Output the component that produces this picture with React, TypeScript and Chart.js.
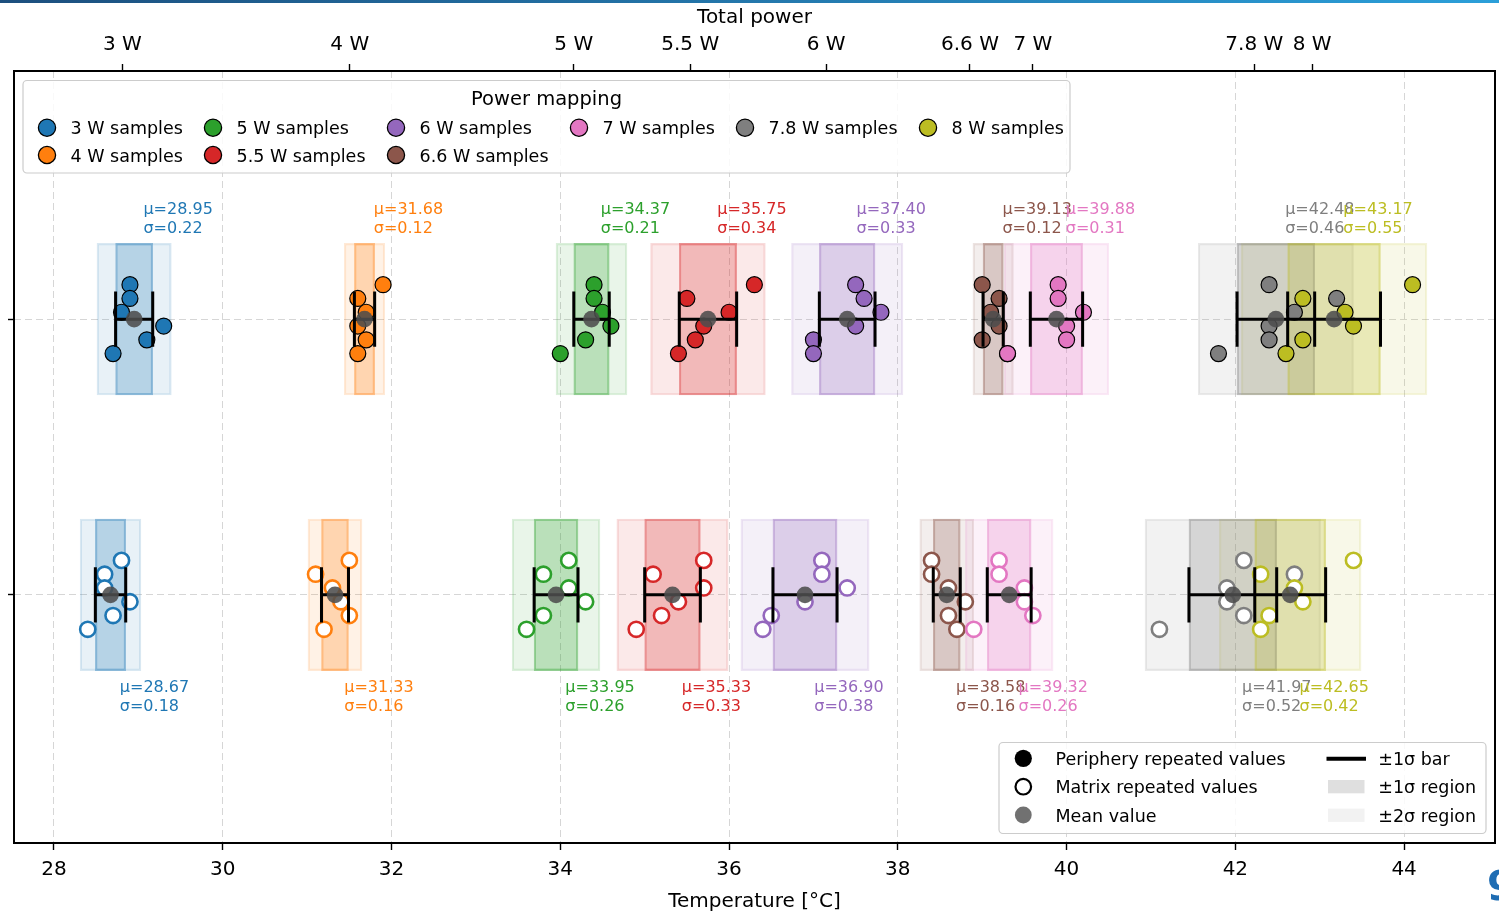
import React, { useEffect, useRef } from 'react';
import { Chart, registerables } from 'chart.js';

Chart.register(...registerables);

// ---------------- data ----------------
const powerLabels = ['3 W', '4 W', '5 W', '5.5 W', '6 W', '6.6 W', '7 W', '7.8 W', '8 W'];
const colors = ['#1f77b4', '#ff7f0e', '#2ca02c', '#d62728', '#9467bd', '#8c564b', '#e377c2', '#7f7f7f', '#bcbd22'];

const periphSamples = [
  [28.9, 28.9, 28.8, 29.3, 29.1, 28.7],
  [31.9, 31.6, 31.7, 31.6, 31.7, 31.6],
  [34.4, 34.4, 34.5, 34.6, 34.3, 34.0],
  [36.3, 35.5, 36.0, 35.7, 35.6, 35.4],
  [37.5, 37.6, 37.8, 37.5, 37.0, 37.0],
  [39.0, 39.2, 39.1, 39.2, 39.0, 39.3],
  [39.9, 39.9, 40.2, 40.0, 40.0, 39.3],
  [42.4, 43.2, 42.7, 42.4, 42.4, 41.8],
  [44.1, 42.8, 43.3, 43.4, 42.8, 42.6],
];
const matrixSamples = [
  [28.8, 28.6, 28.6, 28.9, 28.7, 28.4],
  [31.5, 31.1, 31.3, 31.4, 31.5, 31.2],
  [34.1, 33.8, 34.1, 34.3, 33.8, 33.6],
  [35.7, 35.1, 35.7, 35.4, 35.2, 34.9],
  [37.1, 37.1, 37.4, 36.9, 36.5, 36.4],
  [38.4, 38.4, 38.6, 38.8, 38.6, 38.7],
  [39.2, 39.2, 39.5, 39.5, 39.6, 38.9],
  [42.1, 42.7, 41.9, 41.9, 42.1, 41.1],
  [43.4, 42.3, 42.7, 42.8, 42.4, 42.3],
];
const periphMean = [28.95, 31.68, 34.37, 35.75, 37.40, 39.13, 39.88, 42.48, 43.17];
const periphSigma = [0.22, 0.12, 0.21, 0.34, 0.33, 0.12, 0.31, 0.46, 0.55];
const matrixMean = [28.67, 31.33, 33.95, 35.33, 36.90, 38.58, 39.32, 41.97, 42.65];
const matrixSigma = [0.18, 0.16, 0.26, 0.33, 0.38, 0.16, 0.26, 0.52, 0.42];
const sampleJitter = [0.125, 0.075, 0.025, -0.025, -0.075, -0.125];
const tempTicks = [28, 30, 32, 34, 36, 38, 40, 42, 44];
const PERIPH_ROW = 1;
const MATRIX_ROW = 0;

// ---------------- layout / style ----------------
const W = 1499;
const H = 913;
const AREA = { left: 14, top: 71, right: 1495, bottom: 843 };
const X_MIN = 27.526;
const X_MAX = 45.077;
const Y_MIN = -0.9;
const Y_MAX = 1.9;
const REGION_HALF = 0.275;
const CAP_HALF = 0.1;
const LABEL_GAP = 0.3;
const LABEL_DX = 0.11;
const FONT = '"DejaVu Sans", Verdana, sans-serif';
const GRID = '#d6d6d6';

const BAR_PX = (2 * REGION_HALF * (AREA.bottom - AREA.top)) / (Y_MAX - Y_MIN);

function rgba(hex: string, a: number) {
  const n = parseInt(hex.slice(1), 16);
  return `rgba(${(n >> 16) & 255},${(n >> 8) & 255},${n & 255},${a})`;
}

const powerTicks = periphMean.map((m, i) => (m + matrixMean[i]) / 2);

function zeroPadding(s: any) {
  s.paddingLeft = 0;
  s.paddingRight = 0;
  s.paddingTop = 0;
  s.paddingBottom = 0;
}

function regionDataset(means: number[], sigmas: number[], row: number, k: number, alpha: number, edgeAlpha: number, order: number) {
  return {
    type: 'bar',
    indexAxis: 'y',
    xAxisID: 'x',
    yAxisID: 'y',
    data: means.map((m, i) => ({ y: row, x: [m - k * sigmas[i], m + k * sigmas[i]] })),
    backgroundColor: colors.map((c) => rgba(c, alpha)),
    borderColor: colors.map((c) => rgba(c, edgeAlpha)),
    borderWidth: 1.5,
    borderSkipped: false,
    barThickness: BAR_PX,
    grouped: false,
    order,
  };
}

function pointsDataset(samples: number[][], row: number, filled: boolean) {
  const data: any[] = [];
  const bg: string[] = [];
  const bc: string[] = [];
  samples.forEach((grp, g) => {
    grp.forEach((v, k) => {
      data.push({ x: v, y: row + sampleJitter[k] });
      bg.push(filled ? colors[g] : '#ffffff');
      bc.push(filled ? '#000000' : colors[g]);
    });
  });
  return {
    type: 'scatter',
    data,
    pointRadius: filled ? 8 : 7.6,
    pointBackgroundColor: bg,
    pointBorderColor: bc,
    pointBorderWidth: filled ? 1.2 : 2.6,
    showLine: false,
    order: 4,
  };
}

function errorBarDataset(means: number[], sigmas: number[], row: number) {
  const data: any[] = [];
  const gap = { x: null, y: null };
  means.forEach((m, i) => {
    const lo = m - sigmas[i];
    const hi = m + sigmas[i];
    data.push({ x: lo, y: row + CAP_HALF }, { x: lo, y: row - CAP_HALF }, gap);
    data.push({ x: lo, y: row }, { x: hi, y: row }, gap);
    data.push({ x: hi, y: row + CAP_HALF }, { x: hi, y: row - CAP_HALF }, gap);
  });
  return {
    type: 'scatter',
    data,
    showLine: true,
    spanGaps: false,
    borderColor: '#000000',
    borderWidth: 3,
    pointRadius: 0,
    fill: false,
    order: 3,
  };
}

const meanDataset = {
  type: 'scatter',
  data: [
    ...periphMean.map((m) => ({ x: m, y: PERIPH_ROW })),
    ...matrixMean.map((m) => ({ x: m, y: MATRIX_ROW })),
  ],
  pointRadius: 8.3,
  pointBackgroundColor: 'rgba(77,77,77,0.88)',
  pointBorderWidth: 0,
  pointBorderColor: 'rgba(0,0,0,0)',
  order: 2,
};

function roundRect(ctx: CanvasRenderingContext2D, x: number, y: number, w: number, h: number, r: number) {
  ctx.beginPath();
  ctx.moveTo(x + r, y);
  ctx.lineTo(x + w - r, y);
  ctx.arcTo(x + w, y, x + w, y + r, r);
  ctx.lineTo(x + w, y + h - r);
  ctx.arcTo(x + w, y + h, x + w - r, y + h, r);
  ctx.lineTo(x + r, y + h);
  ctx.arcTo(x, y + h, x, y + h - r, r);
  ctx.lineTo(x, y + r);
  ctx.arcTo(x, y, x + r, y, r);
  ctx.closePath();
}

const decorPlugin = {
  id: 'decor',
  afterDatasetsDraw(chart: any) {
    const { ctx, chartArea: a, scales } = chart;
    const xs = scales.x;
    const ys = scales.y;
    ctx.save();

    // mu / sigma labels
    ctx.font = `16px ${FONT}`;
    ctx.textAlign = 'left';
    ctx.textBaseline = 'alphabetic';
    periphMean.forEach((m, i) => {
      const x = xs.getPixelForValue(m + LABEL_DX);
      const yb = ys.getPixelForValue(PERIPH_ROW + LABEL_GAP) - 3;
      ctx.fillStyle = colors[i];
      ctx.fillText(`μ=${m.toFixed(2)}`, x, yb - 19.4);
      ctx.fillText(`σ=${periphSigma[i].toFixed(2)}`, x, yb);
    });
    matrixMean.forEach((m, i) => {
      const x = xs.getPixelForValue(m + LABEL_DX);
      const yt = ys.getPixelForValue(MATRIX_ROW - LABEL_GAP) + 14;
      ctx.fillStyle = colors[i];
      ctx.fillText(`μ=${m.toFixed(2)}`, x, yt);
      ctx.fillText(`σ=${matrixSigma[i].toFixed(2)}`, x, yt + 19.4);
    });

    // frame
    ctx.strokeStyle = '#000';
    ctx.lineWidth = 2;
    ctx.strokeRect(a.left, a.top, a.right - a.left, a.bottom - a.top);

    // ---- top legend: Power mapping ----
    roundRect(ctx, 23, 80.5, 1047, 92.5, 4);
    ctx.fillStyle = 'rgba(255,255,255,0.85)';
    ctx.fill();
    ctx.strokeStyle = '#cccccc';
    ctx.lineWidth = 1.2;
    ctx.stroke();

    ctx.fillStyle = '#000';
    ctx.font = `19.5px ${FONT}`;
    ctx.textAlign = 'center';
    ctx.fillText('Power mapping', 546.5, 105);

    const colX = [47, 213, 396, 579, 745, 928];
    const itemCol = [0, 0, 1, 1, 2, 2, 3, 4, 5];
    const itemRow = [0, 1, 0, 1, 0, 1, 0, 0, 0];
    const rowMarkerY = [127.7, 155];
    const rowTextY = [134.3, 161.6];
    ctx.font = `17.5px ${FONT}`;
    ctx.textAlign = 'left';
    powerLabels.forEach((p, i) => {
      const mx = colX[itemCol[i]];
      const my = rowMarkerY[itemRow[i]];
      ctx.beginPath();
      ctx.arc(mx, my, 8.6, 0, Math.PI * 2);
      ctx.fillStyle = colors[i];
      ctx.fill();
      ctx.lineWidth = 1.3;
      ctx.strokeStyle = '#000';
      ctx.stroke();
      ctx.fillStyle = '#000';
      ctx.fillText(`${p} samples`, mx + 23.5, rowTextY[itemRow[i]]);
    });

    // ---- bottom legend ----
    roundRect(ctx, 999, 742.5, 487, 91, 4);
    ctx.fillStyle = 'rgba(255,255,255,0.85)';
    ctx.fill();
    ctx.strokeStyle = '#cccccc';
    ctx.lineWidth = 1.2;
    ctx.stroke();

    const ry = [758.3, 786.7, 815];
    const ty = [765, 793.4, 821.7];
    ctx.beginPath();
    ctx.arc(1023.3, ry[0], 8.6, 0, Math.PI * 2);
    ctx.fillStyle = '#000';
    ctx.fill();
    ctx.beginPath();
    ctx.arc(1023.3, ry[1], 7.8, 0, Math.PI * 2);
    ctx.fillStyle = '#fff';
    ctx.fill();
    ctx.lineWidth = 2.2;
    ctx.strokeStyle = '#000';
    ctx.stroke();
    ctx.beginPath();
    ctx.arc(1023.3, ry[2], 8.4, 0, Math.PI * 2);
    ctx.fillStyle = 'rgba(77,77,77,0.8)';
    ctx.fill();
    ctx.beginPath();
    ctx.moveTo(1326.5, ry[0] + 0.5);
    ctx.lineTo(1366, ry[0] + 0.5);
    ctx.lineWidth = 4;
    ctx.strokeStyle = '#000';
    ctx.stroke();
    ctx.fillStyle = rgba('#7f7f7f', 0.25);
    ctx.fillRect(1328, 780, 36.5, 13.3);
    ctx.fillStyle = rgba('#7f7f7f', 0.1);
    ctx.fillRect(1328, 808.6, 36.5, 13.3);

    ctx.fillStyle = '#000';
    ctx.font = `17.5px ${FONT}`;
    ctx.fillText('Periphery repeated values', 1055.5, ty[0]);
    ctx.fillText('Matrix repeated values', 1055.5, ty[1]);
    ctx.fillText('Mean value', 1055.5, ty[2]);
    ctx.fillText('±1σ bar', 1378.3, ty[0]);
    ctx.fillText('±1σ region', 1378.3, ty[1]);
    ctx.fillText('±2σ region', 1378.3, ty[2]);

    ctx.restore();
  },
};

function buildConfig(): any {
  return {
    type: 'scatter',
    data: {
      datasets: [
        regionDataset(periphMean, periphSigma, PERIPH_ROW, 2, 0.1, 0.17, 7),
        regionDataset(matrixMean, matrixSigma, MATRIX_ROW, 2, 0.1, 0.17, 7),
        regionDataset(periphMean, periphSigma, PERIPH_ROW, 1, 0.25, 0.42, 6),
        regionDataset(matrixMean, matrixSigma, MATRIX_ROW, 1, 0.25, 0.42, 6),
        pointsDataset(periphSamples, PERIPH_ROW, true),
        pointsDataset(matrixSamples, MATRIX_ROW, false),
        errorBarDataset(periphMean, periphSigma, PERIPH_ROW),
        errorBarDataset(matrixMean, matrixSigma, MATRIX_ROW),
        meanDataset,
      ],
    },
    options: {
      animation: false,
      responsive: false,
      devicePixelRatio: 1,
      events: [],
      layout: { autoPadding: false, padding: { left: 0, top: 0, right: W - AREA.right, bottom: 0 } },
      plugins: { legend: { display: false }, tooltip: { enabled: false } },
      scales: {
        x: {
          type: 'linear',
          position: 'bottom',
          min: X_MIN,
          max: X_MAX,
          beginAtZero: false,
          offset: false,
          afterBuildTicks: (s: any) => {
            s.ticks = tempTicks.map((v) => ({ value: v }));
          },
          afterFit: (s: any) => {
            s.height = H - AREA.bottom;
            zeroPadding(s);
          },
          ticks: {
            autoSkip: false,
            maxRotation: 0,
            minRotation: 0,
            padding: 8,
            color: '#000',
            font: { family: FONT, size: 20 },
            callback: (v: any) => String(v),
          },
          grid: {
            color: GRID,
            lineWidth: 1,
            drawTicks: true,
            tickLength: 7,
            tickColor: '#000',
            tickWidth: 1.4,
            offset: false,
          },
          border: { display: false, dash: [7, 4] },
          title: {
            display: true,
            text: 'Temperature [°C]',
            color: '#000',
            font: { family: FONT, size: 20, lineHeight: 1.1 },
            padding: { top: 0, bottom: 0 },
          },
        },
        x2: {
          type: 'linear',
          position: 'top',
          min: X_MIN,
          max: X_MAX,
          offset: false,
          afterBuildTicks: (s: any) => {
            s.ticks = powerTicks.map((v) => ({ value: v }));
          },
          afterFit: (s: any) => {
            s.height = AREA.top;
            zeroPadding(s);
          },
          ticks: {
            autoSkip: false,
            maxRotation: 0,
            minRotation: 0,
            padding: 7.5,
            color: '#000',
            font: { family: FONT, size: 20 },
            callback: (_v: any, i: number) => powerLabels[i],
          },
          grid: {
            drawOnChartArea: false,
            drawTicks: true,
            tickLength: 7,
            tickColor: '#000',
            tickWidth: 1.4,
            color: '#000',
          },
          border: { display: false },
          title: {
            display: true,
            text: 'Total power',
            color: '#000',
            font: { family: FONT, size: 20 },
            padding: { top: 6, bottom: 0 },
          },
        },
        y: {
          type: 'linear',
          position: 'left',
          min: Y_MIN,
          max: Y_MAX,
          offset: false,
          beginAtZero: false,
          afterBuildTicks: (s: any) => {
            s.ticks = [MATRIX_ROW, PERIPH_ROW].map((v) => ({ value: v }));
          },
          afterFit: (s: any) => {
            s.width = AREA.left;
            zeroPadding(s);
          },
          ticks: { display: false },
          grid: {
            color: GRID,
            lineWidth: 1,
            drawTicks: true,
            tickLength: 6,
            tickColor: '#000',
            tickWidth: 1.4,
            offset: false,
          },
          border: { display: false, dash: [7, 4] },
        },
      },
    },
    plugins: [decorPlugin],
  };
}

export default function App() {
  const ref = useRef<HTMLCanvasElement | null>(null);
  useEffect(() => {
    if (!ref.current) return;
    const chart = new Chart(ref.current, buildConfig());
    return () => chart.destroy();
  }, []);
  return (
    <div style={{ position: 'absolute', left: 0, top: 0, width: W, height: H, background: '#fff', overflow: 'hidden' }}>
      <canvas ref={ref} width={W} height={H} style={{ display: 'block', width: W, height: H }} />
      <div
        style={{
          position: 'absolute',
          left: 0,
          top: 0,
          width: W,
          height: 3,
          background: 'linear-gradient(to right, #1c4f7e, #2b9fd9)',
        }}
      />
      <div style={{ position: 'absolute', left: 1487, top: 862, width: 12, height: 51, overflow: 'hidden' }}>
        <span style={{ fontFamily: FONT, fontSize: 40, fontWeight: 'bold', color: '#1f6db3', lineHeight: '48px' }}>9</span>
      </div>
    </div>
  );
}
